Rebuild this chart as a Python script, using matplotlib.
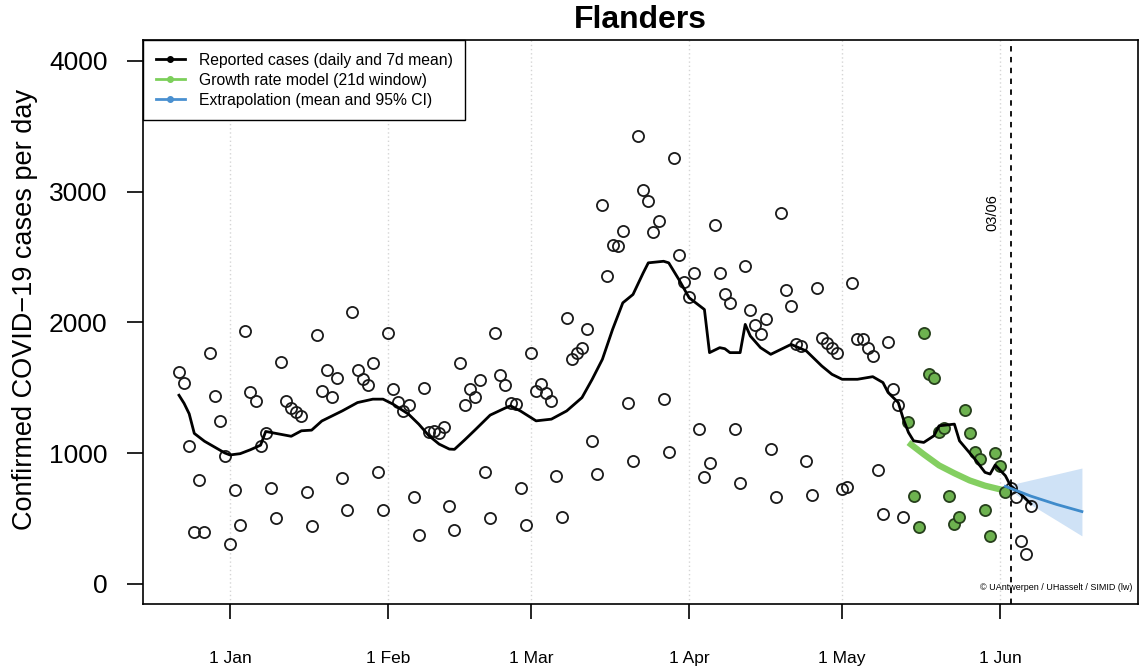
import matplotlib
matplotlib.use("Agg")
import matplotlib.pyplot as plt
from matplotlib.lines import Line2D
import numpy as np
import pandas as pd

plt.rcParams['font.family'] = ['Liberation Sans', 'DejaVu Sans']

# daily reported cases, one value per day starting 22 Dec 2020
first_day = "2020-12-22"
cases = [1617, 1539, 1055, 394, 794, 399, 1768, 1437, 1246, 979,
         305, 720, 452, 1933, 1467, 1399, 1055, 1152, 730, 501,
         1696, 1399, 1348, 1310, 1284, 700, 440, 1900, 1475, 1635,
         1432, 1572, 806, 567, 2078, 1635, 1564, 1518, 1692, 857,
         565, 1920, 1488, 1391, 1323, 1366, 661, 376, 1501, 1157,
         1170, 1152, 1200, 593, 414, 1692, 1366, 1493, 1432, 1559,
         852, 501, 1920, 1595, 1521, 1386, 1373, 730, 450, 1762,
         1475, 1526, 1457, 1399, 826, 509, 2035, 1722, 1768, 1806,
         1946, 1089, 839, 2899, 2353, 2594, 2582, 2701, 1381, 936,
         3428, 3014, 2925, 2691, 2777, 1412, 1005, 3256, 2518, 2310,
         2192, 2378, 1183, 814, 923, 2747, 2378, 2220, 2149, 1183,
         768, 2434, 2093, 1976, 1908, 2027, 1030, 661, 2836, 2251,
         2124, 1831, 1818, 941, 679, 2264, 1882, 1844, 1806, 1768,
         725, 738, 2297, 1869, 1875, 1806, 1742, 872, 534, 1849,
         1493, 1366, 514, 1238, 674, 433, 1915, 1602, 1572, 1157,
         1188, 669, 458, 509, 1328, 1152, 1009, 954, 565, 364,
         1000, 898, 704, 730, 661, 330, 229, 597]

# 21 day window of the growth rate model
window_start = "2021-05-14"
window_end = "2021-06-02"
cut_date = "2021-06-03"

# 7 day mean (days counted from 1 Jan 2021)
mean_day = [-10, -9, -8, -7, -5, -3, -1, 0, 2, 4, 6, 7, 9, 12, 14, 16, 18,
            22, 25, 28, 30, 32, 35, 37, 39, 41, 43, 44, 46, 48, 51, 54, 55,
            57, 60, 63, 66, 69, 71, 73, 75, 77, 79, 81, 82, 85, 86, 88, 90,
            93, 94, 96, 97, 98, 100, 101, 102, 104, 106, 108, 110, 113, 116,
            118, 120, 123, 126, 128, 129, 131, 132, 133, 134, 136, 138, 139,
            142, 143, 146, 148, 149, 150, 152, 153, 155, 157]
mean_cases = [1442, 1380, 1300, 1150, 1090, 1045, 1000, 985, 995, 1025, 1060,
              1165, 1150, 1128, 1170, 1175, 1245, 1322, 1386, 1412, 1412, 1373,
              1297, 1221, 1132, 1068, 1030, 1028, 1100, 1175, 1290, 1345, 1361,
              1320, 1246, 1259, 1322, 1424, 1564, 1717, 1946, 2149, 2213, 2378,
              2455, 2467, 2455, 2327, 2188, 2098, 1768, 1806, 1798, 1768, 1768,
              1984, 1895, 1806, 1755, 1793, 1831, 1780, 1666, 1602, 1564, 1564,
              1584, 1539, 1463, 1386, 1259, 1157, 1093, 1081, 1132, 1208, 1221,
              1093, 954, 852, 839, 908, 826, 750, 687, 610]

# growth rate model fit
model_day = [133, 136, 139, 142, 145, 148, 152]
model_cases = [1080, 990, 905, 845, 790, 750, 712]

# extrapolation with 95% CI
extrap_day = [152, 157, 162, 167]
extrap_mean = [745, 670, 607, 552]
extrap_low = [740, 605, 486, 366]
extrap_high = [748, 794, 839, 885]

month_ticks = ["2021-01-01", "2021-02-01", "2021-03-01",
               "2021-04-01", "2021-05-01", "2021-06-01"]
month_labels = ["1 Jan", "1 Feb", "1 Mar", "1 Apr", "1 May", "1 Jun"]
y_ticks = [0, 1000, 2000, 3000, 4000]

jan1 = pd.Timestamp("2021-01-01")


def to_date(days):
    return jan1 + pd.to_timedelta(np.atleast_1d(np.asarray(days, dtype=float)), unit="D")


dates = pd.date_range(first_day, periods=len(cases))
cases = np.array(cases)
in_win = (dates >= pd.Timestamp(window_start)) & (dates <= pd.Timestamp(window_end))

fig = plt.figure(figsize=(11.41, 6.71), dpi=100)
ax = fig.add_axes([0.1253, 0.0999, 0.8721, 0.8405])

# month grid lines
for t in month_ticks:
    ax.axvline(pd.Timestamp(t), color="#d5d5d5", ls=(0, (1, 2)), lw=1, zorder=0)

# CI band and model
ax.fill_between(to_date(extrap_day), extrap_low, extrap_high,
                color="#cfe2f6", lw=0, zorder=1)
ax.plot(to_date(model_day), model_cases, color="#84cf61", lw=4.5,
        solid_capstyle="butt", zorder=2)

# daily points
ax.plot(dates[~in_win], cases[~in_win], "o", ms=8, mfc="none",
        mec="#1a1a1a", mew=1.3, zorder=3)
ax.plot(dates[in_win], cases[in_win], "o", ms=8, mfc="#6db24f",
        mec="#263f1c", mew=1.3, zorder=4)

# 7 day mean
ax.plot(to_date(mean_day), mean_cases, color="black", lw=2, zorder=5)

# extrapolation
ax.plot(to_date(extrap_day), extrap_mean, color="#3f8bcb", lw=2, zorder=6)

ax.axvline(pd.Timestamp(cut_date), color="black", ls=(0, (3, 3)), lw=1.3, zorder=7)
ax.text(pd.Timestamp(cut_date) - pd.Timedelta(days=3.5), 2840, "03/06",
        rotation=90, ha="center", va="center", fontsize=10.5)

ax.text(0.994, 0.03, "\u00a9 UAntwerpen / UHasselt / SIMID (lw)",
        transform=ax.transAxes, ha="right", va="center", fontsize=6.5)

ax.set_xlim(to_date(-17.06)[0], to_date(178.0)[0])
ax.set_ylim(-155, 4160)

ax.set_xticks(pd.to_datetime(month_ticks))
ax.set_xticklabels(month_labels, fontsize=12.5)
ax.set_yticks(y_ticks)
ax.set_yticklabels([str(v) for v in y_ticks], fontsize=19)
ax.tick_params(axis="x", length=11, width=1.2, pad=23)
ax.tick_params(axis="y", length=11.5, width=1.2, pad=14)
for sp in ax.spines.values():
    sp.set_linewidth(1.2)

fig.text(25 / 1141, 1 - 309 / 671, "Confirmed COVID\u221219 cases per day",
         rotation=90, ha="center", va="center", fontsize=19.5)
fig.text(640 / 1141, 1 - 20 / 671, "Flanders", fontsize=23,
         fontweight="bold", ha="center", va="center")

handles = [
    Line2D([0], [0], color="black", lw=2, marker="o", ms=4),
    Line2D([0], [0], color="#7ccf5b", lw=2, marker="o", ms=4),
    Line2D([0], [0], color="#4a90d0", lw=2, marker="o", ms=4),
]
labels = ["Reported cases (daily and 7d mean)",
          "Growth rate model (21d window)",
          "Extrapolation (mean and 95% CI)"]
leg = ax.legend(handles, labels, loc="upper left", bbox_to_anchor=(0, 1),
                borderaxespad=0, fontsize=11.3, frameon=True, fancybox=False,
                edgecolor="black", framealpha=1, handlelength=1.85,
                handletextpad=0.9, labelspacing=0.33, borderpad=0.8)
leg.get_frame().set_linewidth(1.0)
leg.set_zorder(10)

fig.savefig("out.png", dpi=100)
